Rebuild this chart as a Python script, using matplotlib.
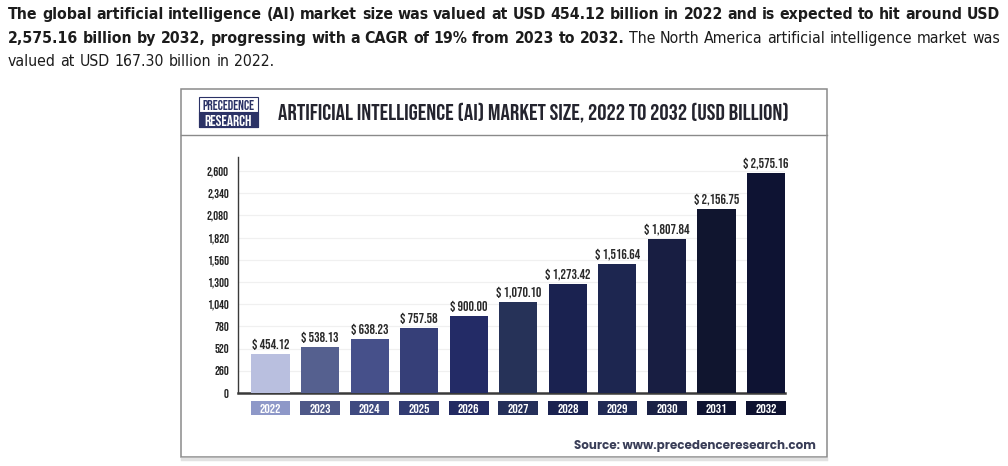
import matplotlib
matplotlib.use("Agg")
import matplotlib.pyplot as plt
from matplotlib.patches import Rectangle
from matplotlib.lines import Line2D

years = ["2022", "2023", "2024", "2025", "2026", "2027", "2028", "2029", "2030", "2031", "2032"]
values = [454.12, 538.13, 638.23, 757.58, 900.00, 1070.10, 1273.42, 1516.64, 1807.84, 2156.75, 2575.16]
bar_colors = ["#b9bfdf", "#55608f", "#46508a", "#363f78", "#232b66", "#263258",
              "#1a2250", "#1d2650", "#181e42", "#10152f", "#0e1333"]
year_box_colors = ["#8e98c8", "#4e5888", "#3f4a80", "#323c72", "#222a62", "#25305a",
                   "#1a2250", "#202a55", "#1a2145", "#0f1432", "#0e1230"]
y_ticks = [0, 260, 520, 780, 1040, 1300, 1560, 1820, 2080, 2340, 2600]

title = "ARTIFICIAL INTELLIGENCE (AI) MARKET SIZE, 2022 TO 2032 (USD BILLION)"
source = "Source: www.precedenceresearch.com"
para_lines = [
    [("The global artificial intelligence (AI) market size was valued at USD 454.12 billion "
      "in 2022 and is expected to hit around USD", "bold")],
    [("2,575.16 billion by 2032, progressing with a CAGR of 19% from 2023 to 2032.", "bold"),
     ("The North America artificial intelligence market was", "normal")],
    [("valued at USD 167.30 billion in 2022.", "normal")],
]

W, H = 1008, 466
fig = plt.figure(figsize=(W / 100, H / 100), dpi=100)
renderer = fig.canvas.get_renderer()


def fx(x):
    return x / W


def fy(y):
    return 1 - y / H


def text_width(t):
    return t.get_window_extent(renderer).width


def fit_text(x, y, s, width, **kw):
    t = fig.text(fx(x), fy(y), s, **kw)
    t.set_fontsize(t.get_fontsize() * width / text_width(t))
    return t


# paragraph above the chart; font size chosen so the first line fills the width
para_font = dict(family="DejaVu Sans", stretch="condensed", color="#1c1c1c")
left, right = 8, 1000
probe = fig.text(0, 0, para_lines[0][0][0], fontsize=10, fontweight="bold", **para_font)
para_size = 10 * (right - left - 2) / text_width(probe)
probe.remove()

baselines = [19, 43, 66]
for li, segs in enumerate(para_lines):
    words = [(w, wt) for s, wt in segs for w in s.split()]
    arts = [fig.text(0, fy(baselines[li]), w, fontweight=wt, va="baseline",
                     fontsize=para_size, **para_font) for w, wt in words]
    widths = [text_width(a) for a in arts]
    if li < 2:
        gap = (right - left - sum(widths)) / (len(words) - 1)
    else:
        gap = 0.3 * para_size * 100 / 72
    x = left
    for a, w in zip(arts, widths):
        a.set_x(fx(x))
        x += w + gap

# frame of the infographic
fig.add_artist(Rectangle((fx(181), fy(457)), fx(827) - fx(181), fy(89) - fy(457),
                         transform=fig.transFigure, fill=False, ec="#8a8a8a", lw=1.1))
fig.add_artist(Line2D([fx(181), fx(827)], [fy(135), fy(135)], transform=fig.transFigure,
                      color="#8a8a8a", lw=1.0))
fig.add_artist(Line2D([fx(182), fx(826)], [fy(459), fy(459)], transform=fig.transFigure,
                      color="#e2e2e2", lw=2.5))

# logo
navy = "#2b3266"
fig.add_artist(Rectangle((fx(199), fy(127)), fx(258) - fx(199), fy(97) - fy(127),
                         transform=fig.transFigure, fill=False, ec=navy, lw=0.8))
fig.add_artist(Rectangle((fx(199), fy(127)), fx(258) - fx(199), fy(112) - fy(127),
                         transform=fig.transFigure, fc=navy, ec=navy, lw=0.8))
logo_t = fit_text(228.5, 105, "PRECEDENCE", 53, family="Bebas Neue", color=navy,
                  ha="center", va="center")
fig.text(fx(228.5), fy(120), "RESEARCH", family="Bebas Neue", color="white",
         fontsize=logo_t.get_fontsize() * 1.12, ha="center", va="center")

fit_text(278, 112, title, 514, family="Bebas Neue", color="#24242e", va="center")
fit_text(574, 446, source, 241, family=["Poppins", "Montserrat Alternates", "DejaVu Sans"],
         fontweight="bold", color="#3a3e58", va="center")

# bar chart
ax = fig.add_axes([fx(238), fy(393), (785 - 238) / W, (393 - 157) / H])
x = list(range(len(years)))
ax.bar(x, values, width=0.77, color=bar_colors, zorder=3)
ax.bar(x, [-164] * len(years), bottom=-94, width=0.80, color=year_box_colors,
       clip_on=False, zorder=3)
for i, (yr, v) in enumerate(zip(years, values)):
    ax.text(i, v + 45, f"$ {v:,.2f}", ha="center", va="bottom", family="Bebas Neue",
            fontsize=9.8, color="#2a2a2a")
    ax.text(i, -176, yr, ha="center", va="center", family="Bebas Neue",
            fontsize=9.6, color="white")

ax.set_xlim(-0.656, 10.383)
ax.set_ylim(0, 2764)
ax.set_xticks([])
ax.set_yticks(y_ticks)
ax.set_yticklabels([f"{t:,}" for t in y_ticks], family="Bebas Neue", fontsize=8.8,
                   color="#222222")
ax.tick_params(axis="y", length=0, pad=6.5)
ax.grid(axis="y", color="#f0f0f0", lw=0.9, zorder=0)
for s in ("top", "right"):
    ax.spines[s].set_visible(False)
ax.spines["left"].set_color("#3a3a3a")
ax.spines["left"].set_linewidth(1.0)
ax.spines["bottom"].set_color("#3a3a3a")
ax.spines["bottom"].set_linewidth(1.8)
ax.set_facecolor("none")

fig.savefig("out.png", dpi=100)
